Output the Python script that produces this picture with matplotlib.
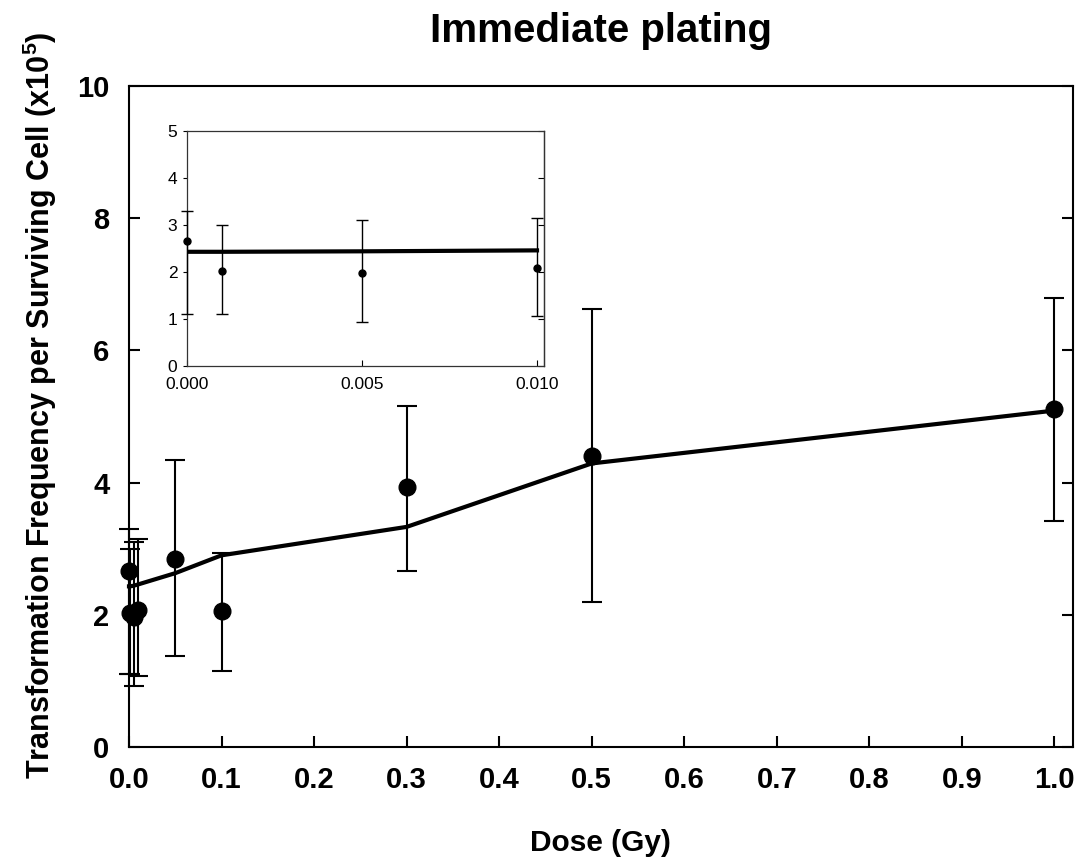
import matplotlib
matplotlib.use("Agg")
import matplotlib.pyplot as plt

plt.rcParams['font.family'] = ['Liberation Sans', 'DejaVu Sans']
plt.rcParams['mathtext.fontset'] = 'custom'
plt.rcParams['mathtext.rm'] = 'Liberation Sans:bold'
plt.rcParams['mathtext.bf'] = 'Liberation Sans:bold'

# ---- data ----
dose = [0.0, 0.001, 0.005, 0.01, 0.05, 0.1, 0.3, 0.5, 1.0]
freq = [2.67, 2.02, 1.97, 2.08, 2.85, 2.05, 3.93, 4.40, 5.11]
err_low = [1.10, 1.10, 0.93, 1.07, 1.38, 1.15, 2.67, 2.20, 3.42]
err_high = [3.30, 3.00, 3.10, 3.15, 4.34, 2.94, 5.16, 6.62, 6.79]

fit_dose = [0.0, 0.001, 0.005, 0.01, 0.05, 0.1, 0.3, 0.5, 1.0]
fit_freq = [2.43, 2.43, 2.44, 2.46, 2.63, 2.90, 3.33, 4.29, 5.09]

main_xticks = [0.0, 0.1, 0.2, 0.3, 0.4, 0.5, 0.6, 0.7, 0.8, 0.9, 1.0]
main_yticks = [0, 2, 4, 6, 8, 10]
inset_xticks = [0.000, 0.005, 0.010]
inset_yticks = [0, 1, 2, 3, 4, 5]

title = "Immediate plating"
xlabel = "Dose (Gy)"
ylabel = r"Transformation Frequency per Surviving Cell (x10$^{\mathbf{5}}$)"

yerr = [[f - l for f, l in zip(freq, err_low)], [h - f for f, h in zip(freq, err_high)]]

fig = plt.figure(figsize=(10.78, 8.59), dpi=100)
ax = fig.add_axes([129/1078, 1-747/859, (1073-129)/1078, (747-86)/859])

ax.plot(fit_dose, fit_freq, color='black', lw=3.0, zorder=3, clip_on=False)
ax.errorbar(dose, freq, yerr=yerr, fmt='o', color='black', ms=12, ecolor='black',
            elinewidth=1.5, capsize=7.5, capthick=1.5, zorder=4, clip_on=False)

ax.set_xlim(0, 1.02)
ax.set_ylim(0, 10)
ax.set_xticks(main_xticks)
ax.set_xticklabels([f"{t:.1f}" for t in main_xticks])
ax.set_yticks(main_yticks)
ax.set_yticklabels([str(t) for t in main_yticks])
ax.tick_params(axis='both', direction='in', length=8, width=1.5, labelsize=21, pad=14)
ax.tick_params(axis='y', right=True, pad=14)
for lab in ax.get_xticklabels() + ax.get_yticklabels():
    lab.set_fontweight('bold')
for s in ax.spines.values():
    s.set_linewidth(1.5)

fig.text(601/1078, 1-42/859, title, ha='center', va='baseline', fontsize=29, fontweight='bold')
fig.text(600/1078, 1-851/859, xlabel, ha='center', va='baseline', fontsize=21.5, fontweight='bold')
fig.text(40/1078, 1-405/859, ylabel, ha='center', va='center', rotation=90, fontsize=22, fontweight='bold')

# ---- inset ----
axi = fig.add_axes([187/1078, 1-366/859, (544-187)/1078, (366-131)/859])
axi.plot(fit_dose[:4], fit_freq[:4], color='black', lw=3.0, zorder=3)
axi.errorbar(dose[:4], freq[:4], yerr=[yerr[0][:4], yerr[1][:4]], fmt='o', color='black', ms=5,
             ecolor='black', elinewidth=1.0, capsize=4, capthick=1.0, zorder=4, clip_on=False)
axi.set_xlim(0, 0.0102)
axi.set_ylim(0, 5)
axi.set_xticks(inset_xticks)
axi.set_xticklabels([f"{t:.3f}" for t in inset_xticks])
axi.set_yticks(inset_yticks)
axi.set_yticklabels([str(t) for t in inset_yticks])
axi.tick_params(axis='x', direction='in', length=4, width=0.8, labelsize=12.5, pad=8)
axi.tick_params(axis='y', direction='out', length=3, width=0.8, labelsize=12.5, pad=4)
sec = axi.secondary_yaxis('right')
sec.set_yticks(inset_yticks)
sec.tick_params(axis='y', direction='in', length=4, width=0.8, labelright=False)
for s in list(axi.spines.values()) + list(sec.spines.values()):
    s.set_linewidth(0.9)
    s.set_color('#333333')

fig.savefig("out.png", dpi=100)
